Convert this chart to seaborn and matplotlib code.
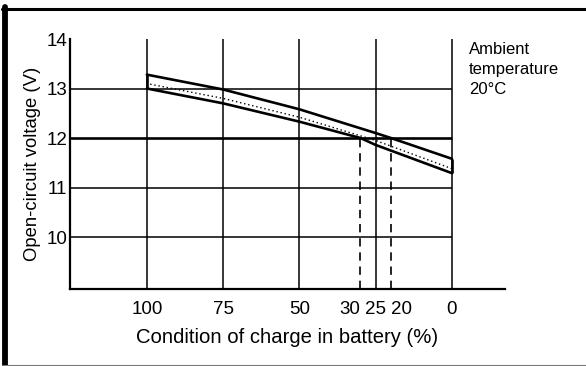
import matplotlib
matplotlib.use("Agg")
import matplotlib.pyplot as plt
from matplotlib.lines import Line2D
import seaborn as sns

# Open-circuit voltage band of a lead-acid battery vs. state of charge
charge_upper = [100, 75, 50, 25, 20, 0]
volt_upper = [13.28, 12.98, 12.58, 12.10, 12.00, 11.58]
charge_lower = [100, 75, 50, 30, 25, 0]
volt_lower = [13.00, 12.70, 12.33, 12.00, 11.86, 11.29]
charge_mid = [100, 75, 50, 25, 0]
volt_mid = [13.10, 12.80, 12.42, 11.95, 11.38]

x_ticks = [100, 75, 50, 30, 25, 20, 0]
x_labels = ["100", "75", "50", "30", "25", "20", "0"]
grid_charge = [100, 75, 50, 25, 0]
volt_ticks = [10, 11, 12, 13, 14]
grid_volts = [10, 11, 12, 13]
threshold_volt = 12
crossing_charge = [30, 20]

sns.set_theme(style="white")
plt.rcParams["font.family"] = ["Liberation Sans", "DejaVu Sans"]

W, H = 586, 366
fig = plt.figure(figsize=(W / 100, H / 100), dpi=100)
ax = fig.add_axes([70 / W, 77 / H, 435 / W, 250 / H])

x_lo, x_hi = 125.2, -17.4
y_lo, y_hi = 8.95, 14.0
ax.set_xlim(x_lo, x_hi)
ax.set_ylim(y_lo, y_hi)

# grid: horizontal lines stop at 0 %, the 12 V line is heavier
for v in grid_volts:
    ax.hlines(v, x_lo, grid_charge[-1], color="black",
              lw=1.9 if v == threshold_volt else 1.1, zorder=1)
ax.vlines(grid_charge, y_lo, y_hi, color="black", lw=1.1, zorder=1)
ax.vlines(crossing_charge, y_lo, threshold_volt, color="black", lw=1.2,
          linestyles=(0, (5, 3.5)), zorder=1)

# voltage band
sns.lineplot(x=charge_upper, y=volt_upper, ax=ax, color="black", lw=1.9, zorder=3)
sns.lineplot(x=charge_lower, y=volt_lower, ax=ax, color="black", lw=1.9, zorder=3)
sns.lineplot(x=charge_mid, y=volt_mid, ax=ax, color="black", lw=1.0,
             linestyle=(0, (1, 2)), zorder=3)
ax.vlines([charge_upper[0], charge_upper[-1]],
          [volt_lower[0], volt_lower[-1]],
          [volt_upper[0], volt_upper[-1]], color="black", lw=1.9, zorder=3)

for side in ("top", "right"):
    ax.spines[side].set_visible(False)
for side in ("left", "bottom"):
    ax.spines[side].set_color("black")
    ax.spines[side].set_linewidth(1.6)

ax.set_xticks(x_ticks)
ax.set_xticklabels(x_labels)
ax.set_yticks(volt_ticks)
ax.tick_params(axis="both", length=0, labelsize=13.5, colors="black")
ax.tick_params(axis="x", pad=9)
ax.tick_params(axis="y", pad=2)
for lab in ax.get_xticklabels():
    if lab.get_text() == "30":
        lab.set_ha("right")
    elif lab.get_text() == "20":
        lab.set_ha("left")

ax.set_xlabel("Condition of charge in battery (%)", fontsize=14.6,
              color="black", labelpad=7)
ax.set_ylabel("Open-circuit voltage (V)", fontsize=13.3, color="black",
              labelpad=4)

fig.text(469 / W, 1 - 42 / H, "Ambient\ntemperature\n20°C", ha="left",
         va="top", fontsize=12, linespacing=1.4, color="black")

# page frame
fig.add_artist(Line2D([5 / W, 5 / W], [0, 1 - 7 / H], color="black", lw=4.2,
                      transform=fig.transFigure))
fig.add_artist(Line2D([2 / W, 1], [1 - 8.5 / H, 1 - 8.5 / H], color="black",
                      lw=2.2, transform=fig.transFigure))
fig.add_artist(Line2D([2 / W, 1], [1.5 / H, 1.5 / H], color="#777777",
                      lw=0.8, transform=fig.transFigure))

fig.savefig("out.png", dpi=100)
